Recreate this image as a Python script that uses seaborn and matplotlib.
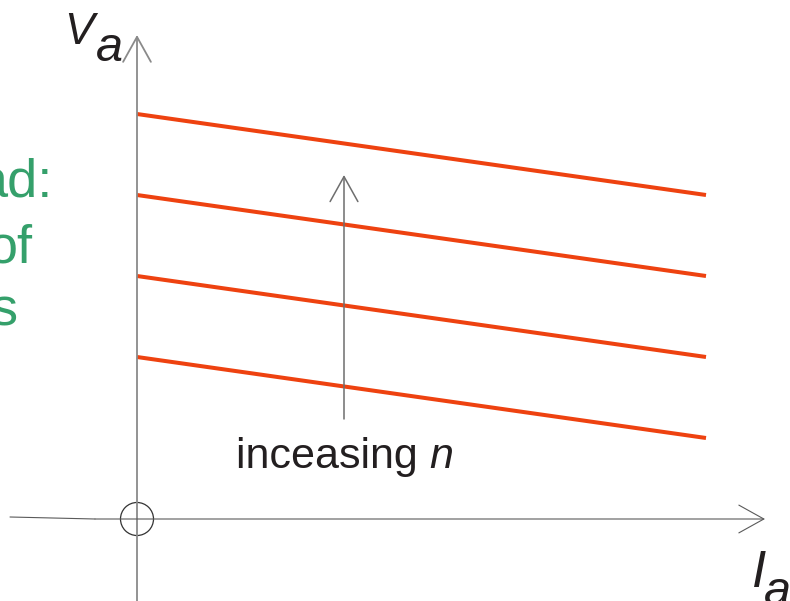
import pandas as pd
import seaborn as sns
import matplotlib.pyplot as plt
from matplotlib.patches import Ellipse

# Armature current (end points of each line) and the terminal voltage for each n
ia_points = [0, 10]
va_n1 = [2, 1]
va_n2 = [3, 2]
va_n3 = [4, 3]
va_n4 = [5, 4]
n_labels = ['n1', 'n2', 'n3', 'n4']

# Build a long-form table for seaborn
df = pd.DataFrame({
    'Ia': ia_points * 4,
    'Va': va_n1 + va_n2 + va_n3 + va_n4,
    'n': [lab for lab in n_labels for _ in ia_points],
})

sns.set_theme(style='white')
plt.rcParams['font.family'] = ['Liberation Sans', 'DejaVu Sans']

W, H = 790, 601
fig = plt.figure(figsize=(W / 100, H / 100), dpi=100)
ax = fig.add_axes([0, 0, 1, 1])

# scale: origin sits at pixel (137, 519), 56.9 px per Ia unit, 81 px per Va unit
ox, oy, sx, sy = 137, 519, 56.9, 81.0
ax.set_xlim(-ox / sx, (W - ox) / sx)
ax.set_ylim(-(H - oy) / sy, oy / sy)
ax.axis('off')


def fig_pos(px, py):
    # pixel position in the picture -> figure fraction
    return px / W, 1 - py / H


def data_pos(px, py):
    return (px - ox) / sx, (oy - py) / sy


# the lines
red = '#EE4210'
sns.lineplot(data=df, x='Ia', y='Va', hue='n', palette=[red] * 4,
             linewidth=2.9, legend=False, ax=ax, solid_capstyle='butt')

arrow = dict(arrowstyle='->,head_length=1.8,head_width=1.0', mutation_scale=10,
             shrinkA=0, shrinkB=0)

# vertical axis
ax.annotate('', xy=data_pos(137, 35), xytext=data_pos(137, 601),
            arrowprops=dict(arrow, color='#8a8a8a', lw=1.3))
# horizontal axis
ax.annotate('', xy=data_pos(765, 519), xytext=data_pos(95, 519),
            arrowprops=dict(arrow, color='#5a5a5a', lw=0.8))
ax.plot(*zip(data_pos(10, 517), data_pos(95, 519)), color='#5a5a5a', lw=0.8)

# origin circle
ax.add_patch(Ellipse((0, 0), 33 / sx, 33 / sy, fill=False, ec='#333333', lw=0.9))

# "increasing n" arrow
ax.annotate('', xy=data_pos(344, 175), xytext=data_pos(344, 419),
            arrowprops=dict(arrow, color='#6e6e6e', lw=1.1))

tx = ax.text(*fig_pos(236, 468), 'inceasing ', transform=fig.transFigure,
             fontsize=31, color='#231f20', va='baseline', ha='left')
fig.canvas.draw()
bb = tx.get_window_extent()
ax.text(bb.x1 / W, 1 - 468 / H, 'n', transform=fig.transFigure, fontsize=31,
        style='italic', color='#231f20', va='baseline', ha='left')

# axis labels
ax.text(*fig_pos(64, 44), 'V', transform=fig.transFigure, fontsize=32,
        style='italic', color='#231f20', va='baseline')
ax.text(*fig_pos(96, 61), 'a', transform=fig.transFigure, fontsize=35,
        style='italic', color='#231f20', va='baseline')
ax.text(*fig_pos(752, 587), 'I', transform=fig.transFigure, fontsize=37,
        style='italic', color='#231f20', va='baseline')
ax.text(*fig_pos(764, 605), 'a', transform=fig.transFigure, fontsize=35,
        style='italic', color='#231f20', va='baseline')

# green note cut off at the left edge
green = '#35A06B'
for word, right, base in [('ad:', 53, 197), ('of', 33, 262), ('s', 18, 325)]:
    ax.text(*fig_pos(right, base), word, transform=fig.transFigure, fontsize=39,
            color=green, va='baseline', ha='right')

fig.savefig('out.png', dpi=100)
